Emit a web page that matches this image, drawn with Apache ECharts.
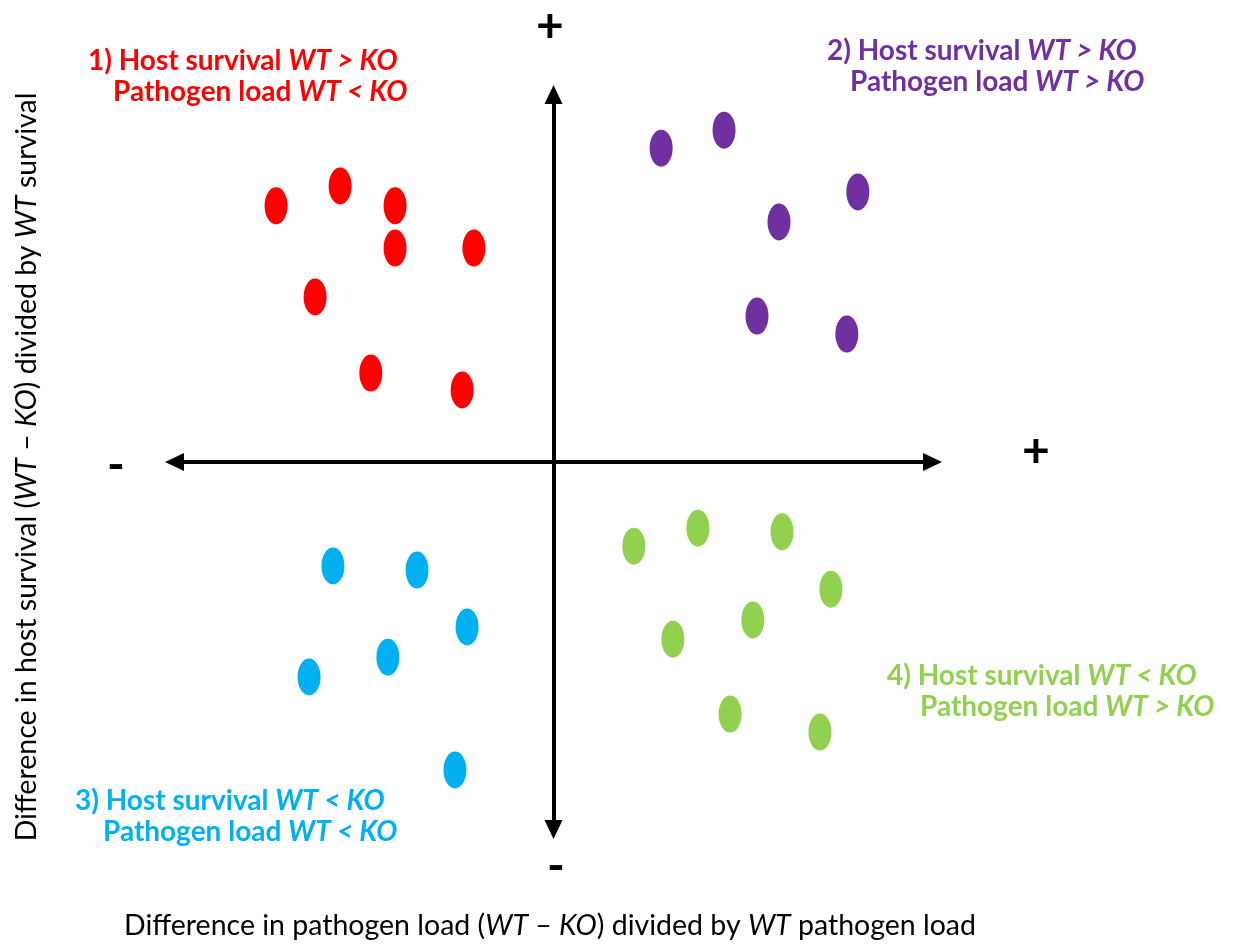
<!DOCTYPE html>
<html>
<head>
<meta charset="utf-8">
<script src="https://cdn.jsdelivr.net/npm/echarts@6/dist/echarts.min.js"></script>
<style>
  html, body { margin: 0; padding: 0; background: #fff; }
  #chart { width: 1236px; height: 947px; }
</style>
</head>
<body>
<div id="chart"></div>
<script>
// Quadrant 1 (top-left, red): [pathogen load diff, host survival diff]
const q1Points = [[-73.2, 69.7], [-56.3, 75.1], [-41.8, 69.7], [-41.8, 58.2], [-21.0, 58.2], [-62.9, 44.9], [-48.2, 24.2], [-24.1, 19.6]];
// Quadrant 2 (top-right, purple)
const q2Points = [[28.4, 85.4], [45.0, 90.3], [80.3, 73.5], [59.5, 65.3], [53.7, 39.7], [77.4, 34.8]];
// Quadrant 3 (bottom-left, blue)
const q3Points = [[-58.2, -28.3], [-36.0, -29.4], [-22.8, -44.9], [-43.7, -53.1], [-64.5, -58.5], [-26.0, -83.8]];
// Quadrant 4 (bottom-right, green)
const q4Points = [[21.2, -22.9], [38.1, -18.0], [60.3, -19.0], [73.2, -34.6], [52.6, -43.0], [31.5, -48.2], [46.6, -68.6], [70.3, -73.5]];

const xTitle = 'Difference in pathogen load ({i|WT} – {i|KO}) divided by {i|WT} pathogen load';
const yTitle = 'Difference in host survival ({i|WT} – {i|KO}) divided by {i|WT} survival';
const q1Lines = ['1) Host survival {i|WT > KO}', 'Pathogen load {i|WT < KO}'];
const q2Lines = ['2) Host survival {i|WT > KO}', 'Pathogen load {i|WT > KO}'];
const q3Lines = ['3) Host survival {i|WT < KO}', 'Pathogen load {i|WT < KO}'];
const q4Lines = ['4) Host survival {i|WT < KO}', 'Pathogen load {i|WT > KO}'];

const COLORS = { q1: '#FF0000', q2: '#7030A0', q3: '#00B0F0', q4: '#92D050' };
const FONT = 'Lato, "Open Sans", sans-serif';
const LABEL_SIZE = 28;
const TITLE_SIZE = 28.5;

const chart = echarts.init(document.getElementById('chart'), null, { renderer: 'canvas' });

function labelLine(text, x, y, color) {
  return {
    type: 'text', x: x, y: y, silent: true,
    style: {
      text: text, fill: color, fontFamily: FONT, fontSize: LABEL_SIZE, fontWeight: 'bold',
      verticalAlign: 'middle', align: 'left',
      rich: { i: { fontStyle: 'italic', fontWeight: 'bold', fontSize: LABEL_SIZE, fontFamily: FONT, fill: color, verticalAlign: 'middle' } }
    }
  };
}
function sign(text, x, y) {
  return {
    type: 'text', x: x, y: y, silent: true,
    style: { text: text, fill: '#000', fontFamily: FONT, fontSize: 48, fontWeight: 'bold', align: 'center', verticalAlign: 'middle' }
  };
}
function title(text, x, y, rotation) {
  return {
    type: 'text', x: x, y: y, rotation: rotation, silent: true,
    style: { text: text, fill: '#000', fontFamily: FONT, fontSize: TITLE_SIZE, align: 'center', verticalAlign: 'middle',
      rich: { i: { fontStyle: 'italic', fontSize: TITLE_SIZE, fontFamily: FONT, fill: '#000', verticalAlign: 'middle' } } }
  };
}

const axisCommon = {
  type: 'value', min: -100, max: 100,
  axisTick: { show: false }, axisLabel: { show: false }, splitLine: { show: false },
  axisLine: { show: true, onZero: true, symbol: ['triangle', 'triangle'], symbolSize: [18, 19],
    lineStyle: { color: '#000', width: 4 } }
};

function scatter(name, data, color) {
  return {
    name: name, type: 'scatter', data: data, symbol: 'circle', symbolSize: [23, 37],
    itemStyle: { color: color, opacity: 1 }, silent: true
  };
}

chart.setOption({
  animation: false,
  backgroundColor: '#fff',
  grid: { left: 174.5, top: 94.5, width: 758, height: 735 },
  xAxis: axisCommon,
  yAxis: axisCommon,
  series: [
    scatter('Quadrant 1', q1Points, COLORS.q1),
    scatter('Quadrant 2', q2Points, COLORS.q2),
    scatter('Quadrant 3', q3Points, COLORS.q3),
    scatter('Quadrant 4', q4Points, COLORS.q4)
  ],
  graphic: [
    labelLine(q1Lines[0], 88, 61, COLORS.q1), labelLine(q1Lines[1], 113, 92, COLORS.q1),
    labelLine(q2Lines[0], 827, 51, COLORS.q2), labelLine(q2Lines[1], 850, 82, COLORS.q2),
    labelLine(q3Lines[0], 75, 801, COLORS.q3), labelLine(q3Lines[1], 103, 832, COLORS.q3),
    labelLine(q4Lines[0], 887, 676, COLORS.q4), labelLine(q4Lines[1], 920, 707, COLORS.q4),
    sign('+', 550, 27), sign('+', 1036, 452), sign('-', 116, 466), sign('-', 556, 867),
    title(xTitle, 550, 926, 0),
    title(yTitle, 27, 467, Math.PI / 2)
  ]
});
</script>
</body>
</html>
